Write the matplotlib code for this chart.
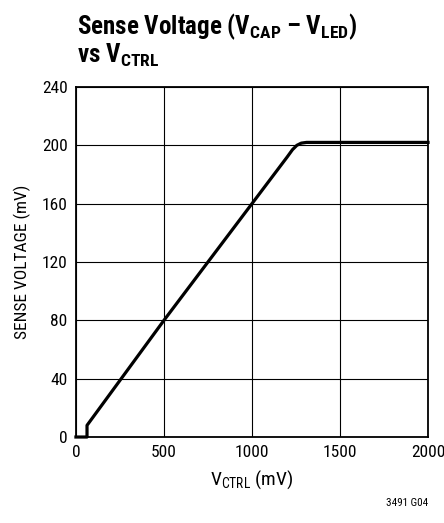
import matplotlib
matplotlib.use("Agg")
import matplotlib.pyplot as plt
from matplotlib import font_manager

# curve (mV)
v_ctrl = [0, 63, 63, 500, 1000, 1200, 1230, 1255, 1280, 1310, 2000]
v_sense = [0, 0, 8, 80, 160, 192, 197, 200, 201.5, 202, 202]

x_ticks = [0, 500, 1000, 1500, 2000]
y_ticks = [0, 40, 80, 120, 160, 200, 240]

# condensed sans to mimic the datasheet's Helvetica Condensed
names = {f.name for f in font_manager.fontManager.ttflist}
main = next((n for n in ["Roboto Condensed", "Archivo Narrow", "Liberation Sans Narrow"] if n in names),
            "Liberation Sans")

plt.rcParams["font.family"] = [main, "DejaVu Sans"]
plt.rcParams["mathtext.fontset"] = "custom"
plt.rcParams["mathtext.rm"] = main
plt.rcParams["mathtext.it"] = main
plt.rcParams["mathtext.bf"] = main + ":bold"

fig = plt.figure(figsize=(4.44, 5.23), dpi=100)
ax = fig.add_axes([0.171, 0.1644, 0.793, 0.6693])

ax.plot(v_ctrl, v_sense, color="k", lw=2.3, solid_joinstyle="round", clip_on=False, zorder=3)

ax.set_xlim(0, 2000)
ax.set_ylim(0, 240)
ax.set_xticks(x_ticks)
ax.set_yticks(y_ticks)
ax.tick_params(length=0, labelsize=12.5, pad=6)
ax.grid(True, color="k", lw=0.8)
for s in ax.spines.values():
    s.set_linewidth(1.3)

ax.set_xlabel(r"V$_{\mathrm{CTRL}}$ (mV)", fontsize=14, labelpad=6)
ax.set_ylabel("SENSE VOLTAGE (mV)", fontsize=12.5, labelpad=8)

fig.text(0.173, 0.978, r"Sense Voltage (V$_{\mathbf{CAP}}$ – V$_{\mathbf{LED}}$)" "\n" r"vs V$_{\mathbf{CTRL}}$",
         fontsize=18, fontweight="bold", ha="left", va="top", linespacing=1.0)
fig.text(0.964, 0.028, "3491 G04", fontsize=8, ha="right", va="bottom")

fig.savefig("out.png", dpi=100)
